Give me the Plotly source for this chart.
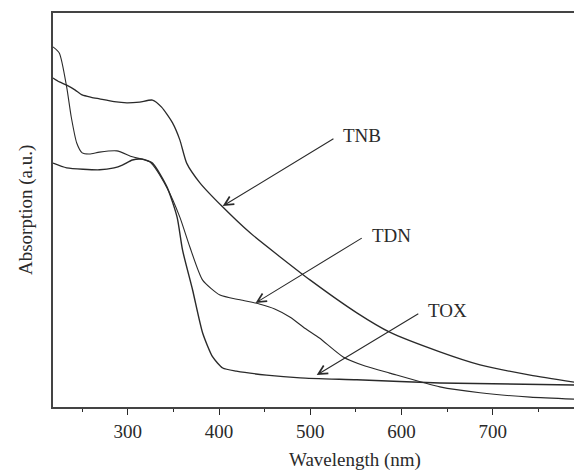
import plotly.graph_objects as go

# TNB
tnb_wl = [218, 225, 233, 242, 250, 260, 269, 285, 299, 313, 327, 337, 349, 357, 364.5, 379, 403, 434, 467, 500, 551, 587, 642, 686, 741, 789]
tnb_abs = [0.835, 0.825, 0.817, 0.805, 0.792, 0.786, 0.782, 0.775, 0.772, 0.774, 0.779, 0.761, 0.721, 0.678, 0.619, 0.569, 0.510, 0.442, 0.381, 0.322, 0.239, 0.190, 0.140, 0.107, 0.081, 0.063]

# TDN
tdn_wl = [218, 225, 233, 238, 244, 250, 258, 269, 288, 305, 324, 343, 357, 368, 382, 401, 423, 445, 461, 478, 494, 510, 536, 560, 587, 642, 686, 741, 789]
tdn_abs = [0.914, 0.898, 0.812, 0.736, 0.670, 0.645, 0.642, 0.647, 0.650, 0.635, 0.622, 0.556, 0.482, 0.406, 0.322, 0.284, 0.272, 0.261, 0.249, 0.228, 0.200, 0.175, 0.127, 0.104, 0.086, 0.051, 0.036, 0.025, 0.020]

# TOX
tox_wl = [218, 233, 269, 285, 294, 305, 316, 327, 343, 354, 360, 371, 382, 393, 404, 419, 452, 489, 551, 642, 789]
tox_abs = [0.619, 0.607, 0.602, 0.607, 0.614, 0.627, 0.629, 0.619, 0.558, 0.482, 0.398, 0.297, 0.188, 0.127, 0.099, 0.091, 0.081, 0.074, 0.069, 0.061, 0.056]

x_ticks = [300, 400, 500, 600, 700]

FONT = "Liberation Serif"
INK = "#2a2a2a"

fig = go.Figure()
for wl, ab, w in [(tnb_wl, tnb_abs, 1.3), (tdn_wl, tdn_abs, 1.1), (tox_wl, tox_abs, 1.4)]:
    fig.add_trace(go.Scatter(x=wl, y=ab, mode="lines", line=dict(color=INK, width=w, shape="spline", smoothing=0.6),
                             showlegend=False, hoverinfo="skip"))

# arrows: (label, head_x, head_y, tail_x, tail_y)
arrows = [("TNB", 404, 0.510, 527, 0.683),
          ("TDN", 440, 0.264, 558, 0.431),
          ("TOX", 507, 0.081, 620, 0.239)]
for lab, hx, hy, tx, ty in arrows:
    fig.add_annotation(x=hx, y=hy, ax=tx, ay=ty, xref="x", yref="y", axref="x", ayref="y",
                       text="", showarrow=True, arrowhead=5, arrowsize=1.6, arrowwidth=1.1,
                       arrowcolor=INK, standoff=0, startstandoff=0)
    fig.add_annotation(x=tx + 7, y=ty + 0.005, xref="x", yref="y", text=lab, showarrow=False,
                       xanchor="left", yanchor="middle", font=dict(family=FONT, size=19, color=INK))

fig.add_annotation(x=(355 - 53) / (574 - 53), y=0, xref="paper", yref="paper", text="Wavelength (nm)",
                   showarrow=False, xanchor="center", yanchor="bottom",
                   font=dict(family=FONT, size=19, color=INK), yshift=-66)
fig.add_annotation(x=0, y=0.5, xref="paper", yref="paper", text="Absorption (a.u.)", showarrow=False,
                   textangle=-90, xanchor="center", yanchor="middle", xshift=-27,
                   font=dict(family=FONT, size=19, color=INK))

fig.update_layout(
    width=574, height=472, autosize=False,
    margin=dict(l=53, r=0, t=13, b=65),
    paper_bgcolor="white", plot_bgcolor="white",
    xaxis=dict(range=[218, 789], tickvals=x_ticks, ticks="outside", ticklen=6, tickwidth=1.2,
               tickcolor=INK, showline=True, linecolor="#444", linewidth=1.5, mirror=True,
               showgrid=False, zeroline=False, ticklabelstandoff=0,
               tickfont=dict(family=FONT, size=19, color=INK),
               minor=dict(dtick=50, tick0=0, ticks="outside", ticklen=3, tickwidth=1.2, tickcolor=INK)),
    yaxis=dict(range=[0, 1], showticklabels=False, ticks="", showline=True, linecolor="#444",
               linewidth=1.5, mirror=False, showgrid=False, zeroline=False),
)

fig.write_html("out.html")
